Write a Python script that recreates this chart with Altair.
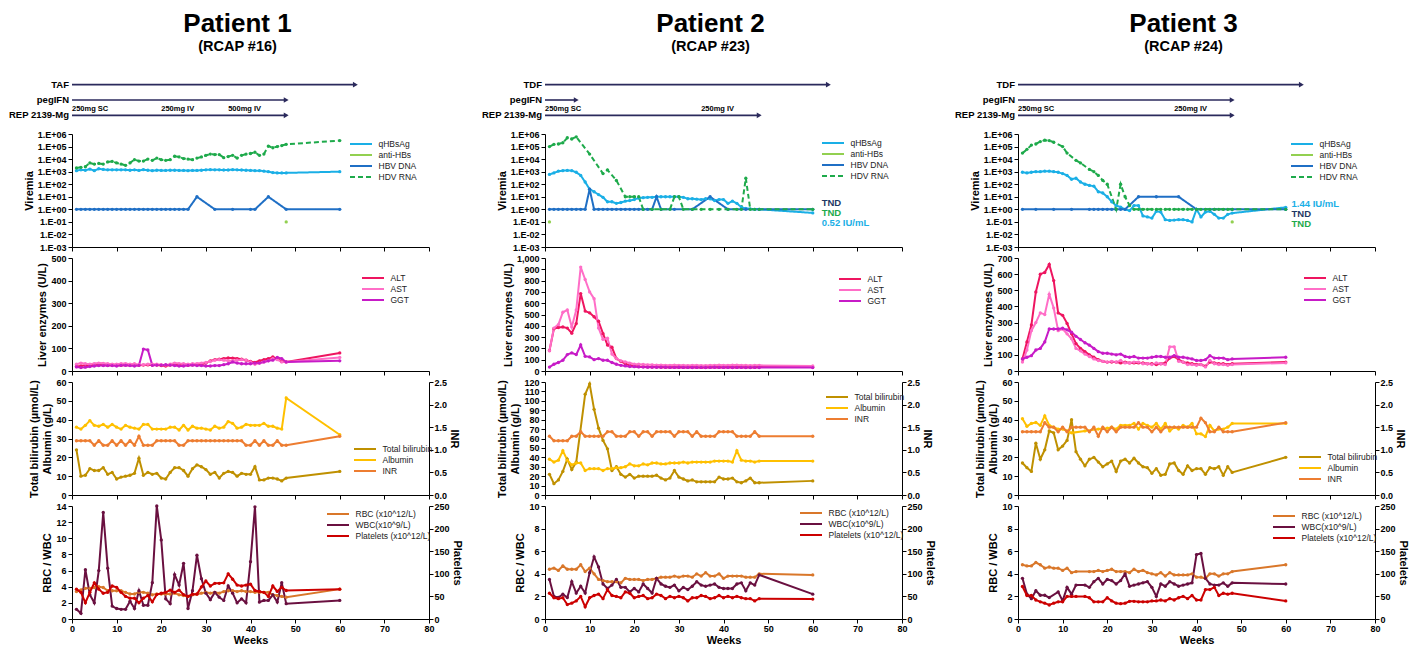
import altair as alt
import pandas as pd

FONT = "Liberation Sans"

WEEKS = [1, 2, 3, 4, 5, 6, 7, 8, 9, 10, 11, 12, 13, 14, 15, 16, 17, 18, 19, 20,
         21, 22, 23, 24, 25, 26, 27, 28, 29, 30, 31, 32, 33, 34, 35, 36, 37, 38, 39, 40,
         41, 42, 43, 44, 45, 46, 47, 48, 60]
X_TICKS = [0, 10, 20, 30, 40, 50, 60, 70, 80]
LOG_TICKS = [0.001, 0.01, 0.1, 1, 10, 100, 1000, 10000, 100000, 1000000]

# ---------------- Patient 1 ----------------
P1_TITLE = "Patient 1"
P1_SUB = "(RCAP #16)"
P1_DRUGS = ["TAF", "pegIFN", "REP 2139-Mg"]
P1_DRUG_END = [63.5, 48, 48]
P1_DOSES = ["250mg SC", "250mg IV", "500mg IV"]
P1_DOSE_WEEKS = [0, 20, 35]

P1_QHBSAG = [1200, 1400, 1300, 1600, 1200, 1700, 1500, 1400, 1400, 1400,
             1400, 1400, 1300, 1400, 1250, 1450, 1300, 1200, 1300, 1250,
             1250, 1300, 1300, 1250, 1250, 1200, 1250, 1250, 1300, 1400,
             1450, 1400, 1400, 1350, 1350, 1450, 1400, 1350, 1300, 1250,
             1200, 1200, 1100, 1000, 850, 800, 800, 800, 1000]
P1_HDVRNA = [2000, 2200, 2500, 5000, 4000, 4500, 4000, 6000, 6500, 5000,
             4000, 3200, 5000, 9000, 7000, 7000, 10000, 8000, 12000, 9000,
             8000, 9000, 17000, 15000, 11000, 10000, 9000, 12000, 15000, 20000,
             25000, 23000, 23000, 13000, 16000, 20000, 12000, 20000, 25000, 28000,
             35000, 20000, 25000, 110000, 80000, 100000, 120000, 150000, 300000]
P1_HBVDNA_WEEKS = [1, 2, 3, 4, 5, 6, 7, 8, 9, 10, 11, 12, 13, 14, 15, 16, 17, 18, 19, 20,
                   21, 22, 23, 24, 25, 26, 28, 32, 36, 40, 41, 44, 48, 60]
P1_HBVDNA = [1, 1, 1, 1, 1, 1, 1, 1, 1, 1, 1, 1, 1, 1, 1, 1, 1, 1, 1, 1,
             1, 1, 1, 1, 1, 1, 10, 1, 1, 1, 1, 10, 1, 1]
P1_ANTIHBS_WEEKS = [48]
P1_ANTIHBS = [0.1]

P1_ALT = [20, 22, 25, 25, 28, 27, 26, 25, 27, 26,
          25, 27, 26, 28, 25, 26, 27, 26, 26, 24,
          22, 26, 28, 27, 26, 25, 27, 28, 30, 35,
          45, 50, 52, 55, 58, 57, 55, 52, 48, 42,
          38, 45, 50, 55, 62, 55, 42, 40, 80]
P1_AST = [30, 35, 32, 30, 33, 35, 34, 32, 30, 30,
          32, 33, 30, 32, 28, 28, 30, 30, 30, 28,
          26, 30, 35, 33, 32, 30, 32, 33, 35, 38,
          42, 48, 50, 48, 45, 45, 48, 50, 48, 40,
          30, 35, 40, 45, 55, 50, 40, 40, 60]
P1_GGT = [18, 15, 17, 20, 22, 24, 24, 24, 24, 22,
          25, 25, 24, 22, 25, 97, 93, 25, 26, 26,
          28, 26, 24, 22, 22, 25, 26, 24, 24, 22,
          22, 24, 24, 28, 32, 40, 35, 32, 32, 32,
          35, 35, 40, 45, 48, 60, 55, 40, 45]

P1_TBIL = [24, 10, 10.5, 14, 13, 13, 14.5, 11, 12, 8.5,
           9.5, 10, 10.5, 11.5, 19.5, 10.5, 12, 11, 11.5, 9,
           8.5, 12, 14.5, 14.5, 13, 10, 14, 16, 15, 13.5,
           11, 12, 9, 11.5, 12.5, 12, 10, 11.5, 11, 11,
           15, 8, 8, 9, 9, 8.5, 7.5, 9, 12.5]
P1_ALB = [36, 35, 37, 39.5, 37, 36.5, 37.5, 36, 37.5, 36,
          35, 37, 36, 35.5, 35, 37.5, 37.5, 35, 35, 35,
          35, 36, 36, 34.5, 37, 34.5, 36.5, 35.5, 35.5, 35,
          34.5, 36.5, 35.5, 36, 39, 38, 35.5, 36, 37.5, 37,
          37, 37, 38, 36.5, 36.5, 35.5, 35, 51.5, 32]
P1_INR = [1.2, 1.2, 1.2, 1.2, 1.1, 1.2, 1.1, 1.1, 1.2, 1.1,
          1.2, 1.1, 1.2, 1.1, 1.3, 1.1, 1.1, 1.1, 1.2, 1.2,
          1.2, 1.2, 1.2, 1.1, 1.1, 1.2, 1.2, 1.2, 1.2, 1.2,
          1.2, 1.2, 1.2, 1.2, 1.2, 1.2, 1.2, 1.2, 1.1, 1.1,
          1.2, 1.1, 1.2, 1.1, 1.1, 1.2, 1.1, 1.1, 1.3]

P1_RBC = [3.4, 3.6, 3.8, 3.8, 3.9, 4.0, 3.9, 3.5, 3.5, 3.5,
          3.5, 3.3, 3.1, 3.1, 3.3, 3.3, 3.2, 3.0, 3.1, 3.1,
          3.1, 3.1, 3.2, 3.0, 2.9, 2.8, 3.0, 3.1, 3.2, 3.3,
          3.2, 3.3, 3.2, 3.4, 3.5, 3.5, 3.4, 3.5, 3.4, 3.4,
          3.3, 3.3, 3.3, 3.3, 3.0, 2.9, 2.8, 2.7, 3.7]
P1_WBC = [1.2, 0.7, 6.1, 3.0, 2.0, 6.0, 13.2, 6.3, 1.6, 1.3,
          1.2, 1.2, 2.2, 1.3, 3.5, 1.7, 1.7, 4.5, 14.0, 9.8,
          2.5, 1.9, 5.5, 4.2, 6.9, 1.3, 3.5, 7.9, 5.0, 3.2,
          2.4, 3.3, 2.7, 2.3, 4.1, 3.2, 2.0, 2.5, 2.0, 7.1,
          13.9, 2.1, 2.3, 2.3, 3.0, 2.1, 4.5, 1.9, 2.3]
P1_PLT = [66, 59, 36, 59, 80, 66, 57, 59, 73, 70,
          59, 50, 46, 46, 36, 46, 52, 38, 54, 57,
          59, 64, 59, 64, 54, 50, 55, 55, 71, 84,
          73, 79, 79, 80, 100, 88, 75, 73, 75, 77,
          63, 61, 59, 50, 73, 61, 70, 63, 66]

# ---------------- Patient 2 ----------------
P2_TITLE = "Patient 2"
P2_SUB = "(RCAP #23)"
P2_DRUGS = ["TDF", "pegIFN", "REP 2139-Mg"]
P2_DRUG_END = [63.5, 7, 48]
P2_DOSES = ["250mg SC", "250mg IV"]
P2_DOSE_WEEKS = [0, 35]

P2_QHBSAG = [600, 800, 1100, 1200, 1250, 1200, 900, 500, 150, 40,
             25, 15, 9, 4, 4, 3, 3.5, 4.5, 5, 6,
             8, 8.5, 9, 9, 10, 10, 10, 10, 10, 10,
             9, 7, 7, 6.5, 6, 7, 7, 5, 6, 6,
             3, 4.5, 3, 1.5, 1.2, 1.1, 1, 1, 0.52]
P2_HDVRNA_WEEKS = [1, 2, 3, 4, 5, 6, 7, 10, 13, 14, 16, 18, 19, 20, 21, 22, 24, 26, 28,
                   29, 30, 31, 33, 35, 37, 39, 41, 43, 44, 45, 46, 47, 48, 60]
P2_HDVRNA = [100000, 150000, 160000, 200000, 500000, 400000, 600000, 25000, 700, 1400,
             200, 10, 10, 10, 10, 1, 1, 1, 1,
             10, 10, 1, 1, 1, 1, 1, 1, 1, 1, 300, 1, 1, 1, 1]
P2_HBVDNA_WEEKS = [1, 2, 3, 4, 5, 6, 7, 8, 9, 10, 11, 12, 13, 14, 15, 16, 17, 18, 19, 20,
                   21, 22, 23, 24, 25, 26, 29, 33, 37, 41, 45, 48, 60]
P2_HBVDNA = [1, 1, 1, 1, 1, 1, 1, 1, 1, 40, 1, 1, 1, 1, 1, 1, 1, 1, 1, 1,
             1, 1, 1, 1, 10, 1, 1, 1, 10, 1, 1, 1, 1]
P2_ANTIHBS_WEEKS = [1]
P2_ANTIHBS = [0.1]
P2_NOTES = ["TND", "TND", "0.52 IU/mL"]
P2_NOTE_WEEK = 62

P2_ALT = [180, 375, 385, 390, 380, 335, 420, 685, 530, 515,
          480, 440, 330, 230, 210, 110, 85, 65, 50, 45,
          40, 38, 36, 35, 35, 34, 34, 33, 35, 34,
          33, 34, 35, 33, 32, 33, 34, 35, 33, 34,
          35, 34, 33, 35, 34, 33, 34, 35, 35]
P2_AST = [180, 380, 410, 520, 540, 390, 540, 920, 810, 700,
          640, 380, 280, 290, 150, 110, 90, 80, 70, 60,
          60, 58, 55, 55, 52, 52, 50, 50, 52, 50,
          50, 48, 50, 50, 48, 48, 50, 50, 52, 50,
          50, 52, 52, 50, 50, 48, 50, 50, 45]
P2_GGT = [35, 60, 75, 95, 145, 160, 145, 230, 130, 125,
          100, 110, 95, 95, 75, 60, 50, 45, 40, 38,
          36, 35, 34, 34, 33, 33, 33, 32, 32, 33,
          32, 32, 31, 32, 32, 31, 32, 33, 32, 32,
          32, 31, 32, 32, 31, 31, 32, 31, 30]

P2_TBIL = [22, 12, 16, 25, 38, 27, 35, None, 107, 118,
           91, 71, 58, 49, 26, 30, 22, 19, 22, 18,
           20, 20, 20, 20, 21, 18, 16, 18, 26, 19,
           17, 15, 16, 14, 14, 14, 14, 14, 19, 17,
           17, 18, 14, 13, 15, 18, 13, 13, 15]
P2_ALB = [38, 35, 37, 47, 37, 32, 34, 34, 26, 28,
          28, 28, 26, 28, 28, 29, 29, 30, 33, 31,
          31, 33, 32, 34, 34, 33, 33, 34, 34, 34,
          35, 34, 35, 35, 35, 35, 35, 36, 36, 36,
          36, 35, 47, 37, 36, 36, 35, 36, 36]
P2_INR = [1.3, 1.2, 1.2, 1.2, 1.2, 1.3, 1.3, 1.4, 1.3, 1.3,
          1.3, 1.3, 1.3, 1.4, 1.4, 1.3, 1.3, 1.3, 1.4, 1.4,
          1.3, 1.4, 1.4, 1.3, 1.4, 1.4, 1.4, 1.4, 1.3, 1.4,
          1.4, 1.4, 1.3, 1.4, 1.3, 1.3, 1.3, 1.3, 1.4, 1.4,
          1.4, 1.4, 1.3, 1.3, 1.3, 1.3, 1.4, 1.3, 1.3]

P2_RBC = [4.4, 4.5, 4.3, 4.7, 4.4, 4.4, 4.4, 4.8, 4.2, 4.5,
          4.0, 3.5, 3.4, 3.3, 3.3, 3.3, 3.2, 3.6, 3.5, 3.5,
          3.5, 3.4, 3.5, 3.5, 3.6, 3.7, 3.7, 3.7, 3.8, 3.7,
          3.8, 3.8, 3.7, 4.0, 3.8, 4.1, 3.8, 3.8, 4.0, 3.6,
          3.8, 3.8, 3.8, 3.8, 3.7, 3.7, 3.7, 4.0, 3.9]
P2_WBC = [3.5, 2.0, 1.9, 2.2, 1.9, 3.3, 2.3, 2.9, 2.3, 4.1,
          5.5, 4.6, 3.1, 2.7, 3.0, 3.5, 2.8, 2.8, 2.4, 2.7,
          2.4, 3.1, 2.7, 2.3, 3.6, 3.1, 2.9, 2.8, 3.0, 2.5,
          2.8, 2.6, 2.9, 3.3, 3.0, 2.9, 3.0, 3.1, 2.8, 2.7,
          2.7, 2.7, 3.1, 3.2, 2.5, 3.2, 3.0, 3.9, 2.2]
P2_PLT = [57, 47, 45, 47, 32, 35, 40, 50, 27, 47,
          52, 55, 45, 65, 52, 50, 47, 60, 57, 47,
          50, 52, 45, 47, 55, 52, 45, 50, 47, 50,
          47, 40, 47, 47, 52, 50, 45, 47, 52, 47,
          50, 47, 50, 47, 45, 45, 40, 45, 44]

# ---------------- Patient 3 ----------------
P3_TITLE = "Patient 3"
P3_SUB = "(RCAP #24)"
P3_DRUGS = ["TDF", "pegIFN", "REP 2139-Mg"]
P3_DRUG_END = [63.5, 48, 48]
P3_DOSES = ["250mg SC", "250mg IV"]
P3_DOSE_WEEKS = [0, 35]

P3_QHBSAG = [900, 800, 900, 1000, 1000, 1100, 1100, 1000, 900, 700,
             500, 250, 300, 150, 100, 80, 70, 25, 20, 10,
             4, 2, 1.5, 1, 0.8, 2, 2, 0.3, 0.25, 0.2,
             0.7, 0.6, 0.15, 0.13, 0.14, 0.15, 0.15, 0.13, 0.1, 1,
             0.25, 0.6, 0.7, 0.4, 0.2, 0.2, 0.4, 0.5, 1.44]
P3_HDVRNA_WEEKS = [1, 2, 3, 4, 5, 6, 7, 8, 10, 11, 13, 14, 16, 17, 18, 19, 20,
                   22, 23, 24, 25, 26, 27, 28, 29, 30, 31, 32, 33, 34, 35, 36, 37,
                   38, 39, 40, 41, 42, 43, 44, 45, 46, 47, 48, 60]
P3_HDVRNA = [30000, 60000, 130000, 160000, 250000, 320000, 300000, 220000, 100000, 30000,
             8000, 5000, 1500, 1000, 500, 200, 100,
             1, 100, 10, 2, 1, 1, 1, 1, 1, 1, 1, 1, 1, 1, 1, 1,
             1, 1, 1, 1, 1, 1, 1, 1, 1, 1, 1, 1]
P3_HBVDNA_WEEKS = [1, 4, 8, 12, 16, 17, 18, 19, 20, 21, 22, 23, 24, 27, 31, 36, 40, 44, 48, 60]
P3_HBVDNA = [1, 1, 1, 1, 1, 1, 1, 1, 1, 1, 1, 1, 1, 10, 10, 10, 1, 1, 1, 1]
P3_ANTIHBS_WEEKS = [48]
P3_ANTIHBS = [0.1]
P3_NOTES = ["1.44 IU/mL", "TND", "TND"]
P3_NOTE_WEEK = 61.3

P3_ALT = [75, 180, 285, 490, 600, 610, 660, 560, 360, 345,
          295, 230, 170, 140, 120, 100, 85, 70, 60, 55,
          55, 55, 50, 55, 50, 50, 50, 50, 45, 45,
          40, 45, 50, 80, 90, 70, 55, 50, 45, 40,
          40, 30, 55, 50, 45, 45, 40, 45, 55]
P3_AST = [55, 130, 250, 300, 360, 350, 475, 390, 250, 260,
          230, 200, 140, 125, 105, 90, 75, 65, 60, 55,
          60, 55, 65, 50, 50, 55, 55, 45, 45, 40,
          50, 45, 40, 150, 150, 60, 55, 40, 40, 35,
          40, 25, 65, 45, 40, 40, 35, 40, 50]
P3_GGT = [75, 85, 95, 130, 140, 180, 260, 260, 260, 265,
          255, 240, 215, 195, 175, 160, 140, 120, 110, 110,
          105, 100, 105, 90, 85, 90, 80, 80, 80, 85,
          90, 90, 85, 85, 95, 85, 85, 80, 75, 65,
          65, 70, 95, 80, 80, 80, 70, 75, 85]

P3_TBIL = [17, 14.5, 12.5, 27.5, 19, 24, 34, 33, 24, 26,
           29, 40, 23, 19, 15.5, 19, 20, 17.5, 15, 16.5,
           18, 12.5, 18, 19, 17, 19.5, 17, 15, 14.5, 11.5,
           14, 10.5, 11, 16.5, 17, 13, 11, 15.5, 13, 14,
           14, 11, 14.5, 14, 15, 10.5, 15, 12, 20]
P3_ALB = [40.5, 36.5, 38, 38.5, 37, 42, 37, 36, 35, 35,
          34, 33, None, None, 34, None, None, 35, None, 35.5,
          36, 35, 37, 37, 37, 38, 35, 38, 37, 36,
          38, 35, 38, 34, 36, 35, 37, 36, 38, 32.5,
          32.5, 31, 37, 34, 35, 35, 36, 38, 38]
P3_INR = [1.4, 1.4, 1.4, 1.4, 1.4, 1.6, 1.5, 1.5, 1.4, 1.5,
          1.4, 1.5, 1.5, 1.5, 1.5, 1.4, 1.5, 1.3, 1.5, 1.4,
          1.5, 1.4, 1.5, 1.5, 1.5, 1.5, 1.6, 1.5, 1.5, 1.4,
          1.5, 1.4, 1.5, 1.5, 1.5, 1.5, 1.5, 1.5, 1.5, 1.5,
          1.7, 1.6, 1.4, 1.4, 1.5, 1.4, 1.4, 1.4, 1.6]

P3_RBC = [4.8, 4.7, 4.7, 5.0, 4.8, 4.5, 4.6, 4.5, 4.5, 4.3,
          4.5, 4.1, 4.2, None, None, 4.2, 4.2, 4.3, 4.2, 4.3,
          4.4, 4.2, 4.2, 4.2, 4.1, 4.4, 4.2, 4.3, 4.1, 4.0,
          3.9, 4.1, 3.8, 4.1, 3.9, 3.9, 3.9, 3.9, 4.0, 3.7,
          3.7, 3.6, 4.0, 4.0, 3.8, 4.0, 4.0, 4.2, 4.8]
P3_WBC = [3.6, 2.2, 1.8, 2.5, 2.1, 2.1, 1.9, None, 2.4, 1.6,
          2.8, 2.2, 3.0, None, 3.0, 2.8, 3.3, 3.6, 3.1, 3.5,
          3.4, 3.1, 3.4, 4.0, 2.9, 3.0, 3.1, 3.2, 3.3, 2.8,
          2.0, 3.1, 2.9, 3.3, 3.1, 2.9, 3.0, 3.1, 3.2, 5.7,
          5.8, 3.6, 3.1, 3.0, 3.0, 3.2, 2.9, 3.2, 3.1]
P3_PLT = [72, 52, 52, 42, 38, 35, 31, 35, 38, 38,
          50, 50, 50, None, 50, 47, 38, 38, 38, 47,
          40, 35, 34, 35, 39, 39, 38, 38, 38, 40,
          40, 42, 40, 45, 42, 47, 50, 45, 52, 42,
          42, 65, 65, 70, 52, 57, 55, 57, 40]

# ---------------- styling ----------------
W = 357
H_ARROW = 46
H = 113

C_ARROW = "#2B2A5C"
VIR_NAMES = ["qHBsAg", "anti-HBs", "HBV DNA", "HDV RNA"]
VIR_COLORS = ["#1AAFE6", "#92D050", "#1F6FC5", "#1EAA4B"]
VIR_DASH = [[1, 0], [1, 0], [1, 0], [5, 3]]
LIV_NAMES = ["ALT", "AST", "GGT"]
LIV_COLORS = ["#EE1560", "#FF6EC7", "#C71BC7"]
BIL_NAMES = ["Total bilirubin", "Albumin", "INR"]
BIL_COLORS = ["#BF9000", "#FFC000", "#ED7D31"]
BLD_NAMES = ["RBC (x10^12/L)", "WBC(x10^9/L)", "Platelets (x10^12/L)"]
BLD_COLORS = ["#D9772A", "#6A1040", "#CC0000"]


def long_df(items):
    rows = []
    for name, weeks, vals in items:
        for w, v in zip(weeks, vals):
            if v is not None:
                rows.append({"week": w, "value": v, "series": name})
    return pd.DataFrame(rows)


def xenc(show=False, field="week:Q"):
    return alt.X(field, scale=alt.Scale(domain=[0, 80], nice=False, zero=False),
                 axis=alt.Axis(values=X_TICKS, labels=show, title="Weeks" if show else None,
                               labelFlush=False, tickSize=4, labelPadding=1, titlePadding=1))


def legend(lx, ly):
    return alt.Legend(orient="none", legendX=lx + 5.5, legendY=ly, title=None,
                      symbolType="M-2,0H2", symbolSize=121, symbolStrokeWidth=2,
                      labelFontSize=8.5, labelFont=FONT, labelColor="#222",
                      rowPadding=0, labelOffset=11, padding=0)


PT = alt.OverlayMarkDef(filled=True, size=11, opacity=1)


def arrows_panel(title, sub, drugs, ends, doses, dose_weeks):
    df = pd.DataFrame({"drug": drugs, "row": [1, 2, 3], "start": [0, 0, 0], "end": ends})
    ddf = pd.DataFrame({"dose": doses, "week": dose_weeks, "row": [3] * len(doses)})
    ysc = alt.Scale(domain=[0.5, 3.5], reverse=True)
    xsc = alt.Scale(domain=[0, 80], nice=False, zero=False)
    base = alt.Chart(df)
    rule = base.mark_rule(color=C_ARROW, strokeWidth=1.6).encode(
        x=alt.X("start:Q", scale=xsc, axis=None), x2="end:Q",
        y=alt.Y("row:Q", scale=ysc, axis=None))
    head = base.mark_point(shape="triangle-right", filled=True, size=32, color=C_ARROW,
                           opacity=1).encode(x=alt.X("end:Q", scale=xsc, axis=None),
                                             y=alt.Y("row:Q", scale=ysc, axis=None))
    lab = base.mark_text(align="right", baseline="middle", dx=-3, font=FONT,
                         fontWeight="bold", fontSize=9.5, color="#000").encode(
        x=alt.X("start:Q", scale=xsc, axis=None), y=alt.Y("row:Q", scale=ysc, axis=None),
        text="drug:N")
    dose = alt.Chart(ddf).mark_text(align="left", baseline="bottom", dy=-2, font=FONT,
                                    fontWeight="bold", fontSize=7.5, color="#000").encode(
        x=alt.X("week:Q", scale=xsc, axis=None), y=alt.Y("row:Q", scale=ysc, axis=None),
        text="dose:N")
    return alt.layer(rule, head, lab, dose).properties(
        width=W, height=H_ARROW,
        title=alt.TitleParams(text=title, subtitle=sub, font=FONT, fontSize=26,
                              fontWeight="bold", color="#000", subtitleFont=FONT,
                              subtitleFontSize=14.5, subtitleFontWeight="bold",
                              subtitleColor="#000", subtitlePadding=3, anchor="middle",
                              frame="group", dx=-13, offset=24))


def viremia_panel(df, lx, ly, notes=None, note_week=None, note_dys=None, note_cols=None):
    yaxis = alt.Axis(values=LOG_TICKS, title="Viremia", labelOverlap=False,
                     labelExpr="'1.E' + (datum.value < 1 ? '-' : '+') + '0' + format(abs(round(log(datum.value) / LN10)), 'd')")
    lines = alt.Chart(df).mark_line(strokeWidth=2, point=PT).encode(
        x=xenc(False),
        y=alt.Y("value:Q", scale=alt.Scale(type="log", domain=[0.001, 1000000], nice=False),
                axis=yaxis),
        color=alt.Color("series:N", scale=alt.Scale(domain=VIR_NAMES, range=VIR_COLORS),
                        legend=legend(lx, ly)),
        strokeDash=alt.StrokeDash("series:N", scale=alt.Scale(domain=VIR_NAMES, range=VIR_DASH),
                                  legend=legend(lx, ly)),
    )
    layers = [lines]
    if notes:
        for txt, dy, col in zip(notes, note_dys, note_cols):
            ndf = pd.DataFrame({"week": [note_week], "value": [1], "text": [txt]})
            layers.append(alt.Chart(ndf).mark_text(align="left", baseline="middle", dy=dy,
                                                   font=FONT, fontWeight="bold", fontSize=9.5,
                                                   color=col).encode(
                x=alt.X("week:Q"), y=alt.Y("value:Q"), text="text:N"))
    return alt.layer(*layers).properties(width=W, height=H)


def liver_panel(df, ymax, lx, ly, fmt=None):
    ticks = list(range(0, ymax + 1, 100))
    ax = dict(values=ticks, title="Liver enzymes (U/L)")
    if fmt:
        ax["format"] = fmt
    return alt.Chart(df).mark_line(strokeWidth=2, point=PT).encode(
        x=xenc(False),
        y=alt.Y("value:Q", scale=alt.Scale(domain=[0, ymax], nice=False), axis=alt.Axis(**ax)),
        color=alt.Color("series:N", scale=alt.Scale(domain=LIV_NAMES, range=LIV_COLORS),
                        legend=legend(lx, ly)),
    ).properties(width=W, height=H)


def dual_panel(df_left, df_right, names, colors, ymax, ystep, ytitle, rvals, rtitle,
               rfmt, lx, ly, bottom=False):
    cscale = alt.Scale(domain=names, range=colors)
    left = alt.Chart(df_left).mark_line(strokeWidth=2, point=PT).encode(
        x=xenc(bottom),
        y=alt.Y("value:Q", scale=alt.Scale(domain=[0, ymax], nice=False),
                axis=alt.Axis(values=list(range(0, ymax + 1, ystep)), title=ytitle)),
        color=alt.Color("series:N", scale=cscale, legend=legend(lx, ly)),
    )
    rax = dict(values=rvals, title=rtitle, orient="right", labelPadding=1, titlePadding=2)
    if rfmt:
        rax["format"] = rfmt
    right = alt.Chart(df_right).mark_line(strokeWidth=2, point=PT).encode(
        x=xenc(bottom),
        y=alt.Y("value:Q", scale=alt.Scale(domain=[0, rvals[-1]], nice=False),
                axis=alt.Axis(**rax)),
        color=alt.Color("series:N", scale=cscale, legend=legend(lx, ly)),
    )
    return alt.layer(left, right).resolve_scale(y="independent").properties(width=W, height=H)


INR_TICKS = [0.0, 0.5, 1.0, 1.5, 2.0, 2.5]
PLT_TICKS = [0, 50, 100, 150, 200, 250]

patients = [
    dict(title=P1_TITLE, sub=P1_SUB, drugs=P1_DRUGS, ends=P1_DRUG_END, doses=P1_DOSES,
         dose_weeks=P1_DOSE_WEEKS,
         vir=long_df([("qHBsAg", WEEKS, P1_QHBSAG), ("anti-HBs", P1_ANTIHBS_WEEKS, P1_ANTIHBS),
                      ("HBV DNA", P1_HBVDNA_WEEKS, P1_HBVDNA), ("HDV RNA", WEEKS, P1_HDVRNA)]),
         liv=long_df([("ALT", WEEKS, P1_ALT), ("AST", WEEKS, P1_AST), ("GGT", WEEKS, P1_GGT)]),
         bil_l=long_df([("Total bilirubin", WEEKS, P1_TBIL), ("Albumin", WEEKS, P1_ALB)]),
         bil_r=long_df([("INR", WEEKS, P1_INR)]),
         bld_l=long_df([("RBC (x10^12/L)", WEEKS, P1_RBC), ("WBC(x10^9/L)", WEEKS, P1_WBC)]),
         bld_r=long_df([("Platelets (x10^12/L)", WEEKS, P1_PLT)]),
         livmax=500, livfmt=None, bilmax=60, bldmax=14,
         leg=[(277, 3.5), (289, 13.5), (281, 60.5), (254, 1.5)], notes=None),
    dict(title=P2_TITLE, sub=P2_SUB, drugs=P2_DRUGS, ends=P2_DRUG_END, doses=P2_DOSES,
         dose_weeks=P2_DOSE_WEEKS,
         vir=long_df([("qHBsAg", WEEKS, P2_QHBSAG), ("anti-HBs", P2_ANTIHBS_WEEKS, P2_ANTIHBS),
                      ("HBV DNA", P2_HBVDNA_WEEKS, P2_HBVDNA),
                      ("HDV RNA", P2_HDVRNA_WEEKS, P2_HDVRNA)]),
         liv=long_df([("ALT", WEEKS, P2_ALT), ("AST", WEEKS, P2_AST), ("GGT", WEEKS, P2_GGT)]),
         bil_l=long_df([("Total bilirubin", WEEKS, P2_TBIL), ("Albumin", WEEKS, P2_ALB)]),
         bil_r=long_df([("INR", WEEKS, P2_INR)]),
         bld_l=long_df([("RBC (x10^12/L)", WEEKS, P2_RBC), ("WBC(x10^9/L)", WEEKS, P2_WBC)]),
         bld_r=long_df([("Platelets (x10^12/L)", WEEKS, P2_PLT)]),
         livmax=1000, livfmt=",.0f", bilmax=120, bldmax=10,
         leg=[(276, 2.5), (293, 14.5), (280, 8.5), (254, 0.5)],
         notes=P2_NOTES, note_week=P2_NOTE_WEEK, note_dys=[-6, 4, 14],
         note_cols=["#1F3864", "#1EAA4B", "#1AAFE6"]),
    dict(title=P3_TITLE, sub=P3_SUB, drugs=P3_DRUGS, ends=P3_DRUG_END, doses=P3_DOSES,
         dose_weeks=P3_DOSE_WEEKS,
         vir=long_df([("qHBsAg", WEEKS, P3_QHBSAG), ("anti-HBs", P3_ANTIHBS_WEEKS, P3_ANTIHBS),
                      ("HBV DNA", P3_HBVDNA_WEEKS, P3_HBVDNA),
                      ("HDV RNA", P3_HDVRNA_WEEKS, P3_HDVRNA)]),
         liv=long_df([("ALT", WEEKS, P3_ALT), ("AST", WEEKS, P3_AST), ("GGT", WEEKS, P3_GGT)]),
         bil_l=long_df([("Total bilirubin", WEEKS, P3_TBIL), ("Albumin", WEEKS, P3_ALB)]),
         bil_r=long_df([("INR", WEEKS, P3_INR)]),
         bld_l=long_df([("RBC (x10^12/L)", WEEKS, P3_RBC), ("WBC(x10^9/L)", WEEKS, P3_WBC)]),
         bld_r=long_df([("Platelets (x10^12/L)", WEEKS, P3_PLT)]),
         livmax=700, livfmt=None, bilmax=60, bldmax=10,
         leg=[(272, 3.5), (285, 13.5), (280, 68.5), (254, 3.5)],
         notes=P3_NOTES, note_week=P3_NOTE_WEEK, note_dys=[-5, 5, 15],
         note_cols=["#1AAFE6", "#1F3864", "#1EAA4B"]),
]

rows = [[], [], [], [], []]
for p in patients:
    rows[0].append(arrows_panel(p["title"], p["sub"], p["drugs"], p["ends"], p["doses"],
                                p["dose_weeks"]))
    lv, ll, lb, lo = p["leg"]
    if p["notes"]:
        rows[1].append(viremia_panel(p["vir"], lv[0], lv[1], p["notes"], p["note_week"],
                                     p["note_dys"], p["note_cols"]))
    else:
        rows[1].append(viremia_panel(p["vir"], lv[0], lv[1]))
    rows[2].append(liver_panel(p["liv"], p["livmax"], ll[0], ll[1], p["livfmt"]))
    rows[3].append(dual_panel(p["bil_l"], p["bil_r"], BIL_NAMES, BIL_COLORS, p["bilmax"], 10,
                              ["Total bilirubin (\u00b5mol/L)", "Albumin (g/L)"], INR_TICKS,
                              "INR", ".1f", lb[0], lb[1]))
    rows[4].append(dual_panel(p["bld_l"], p["bld_r"], BLD_NAMES, BLD_COLORS, p["bldmax"], 2,
                              "RBC / WBC", PLT_TICKS, "Platelets", None, lo[0], lo[1],
                              bottom=True))

panels = [c for r in rows for c in r]

chart = alt.concat(*panels, columns=3, spacing={"row": 11, "column": 116},
                   bounds="flush").resolve_scale(
    x="independent", y="independent", color="independent", strokeDash="independent"
).properties(padding={"left": 0, "top": 2, "right": 0, "bottom": 0}).configure_view(
    stroke=None
).configure_axis(
    labelFont=FONT, titleFont=FONT, labelFontWeight="bold", titleFontWeight="bold",
    labelFontSize=9, titleFontSize=11, labelColor="#000", titleColor="#000",
    domainColor="#000", tickColor="#000", grid=False, tickSize=4, labelPadding=2,
    titlePadding=3
).configure_text(font=FONT)

chart.save("out.html", embed_options={"renderer": "svg", "actions": False})
